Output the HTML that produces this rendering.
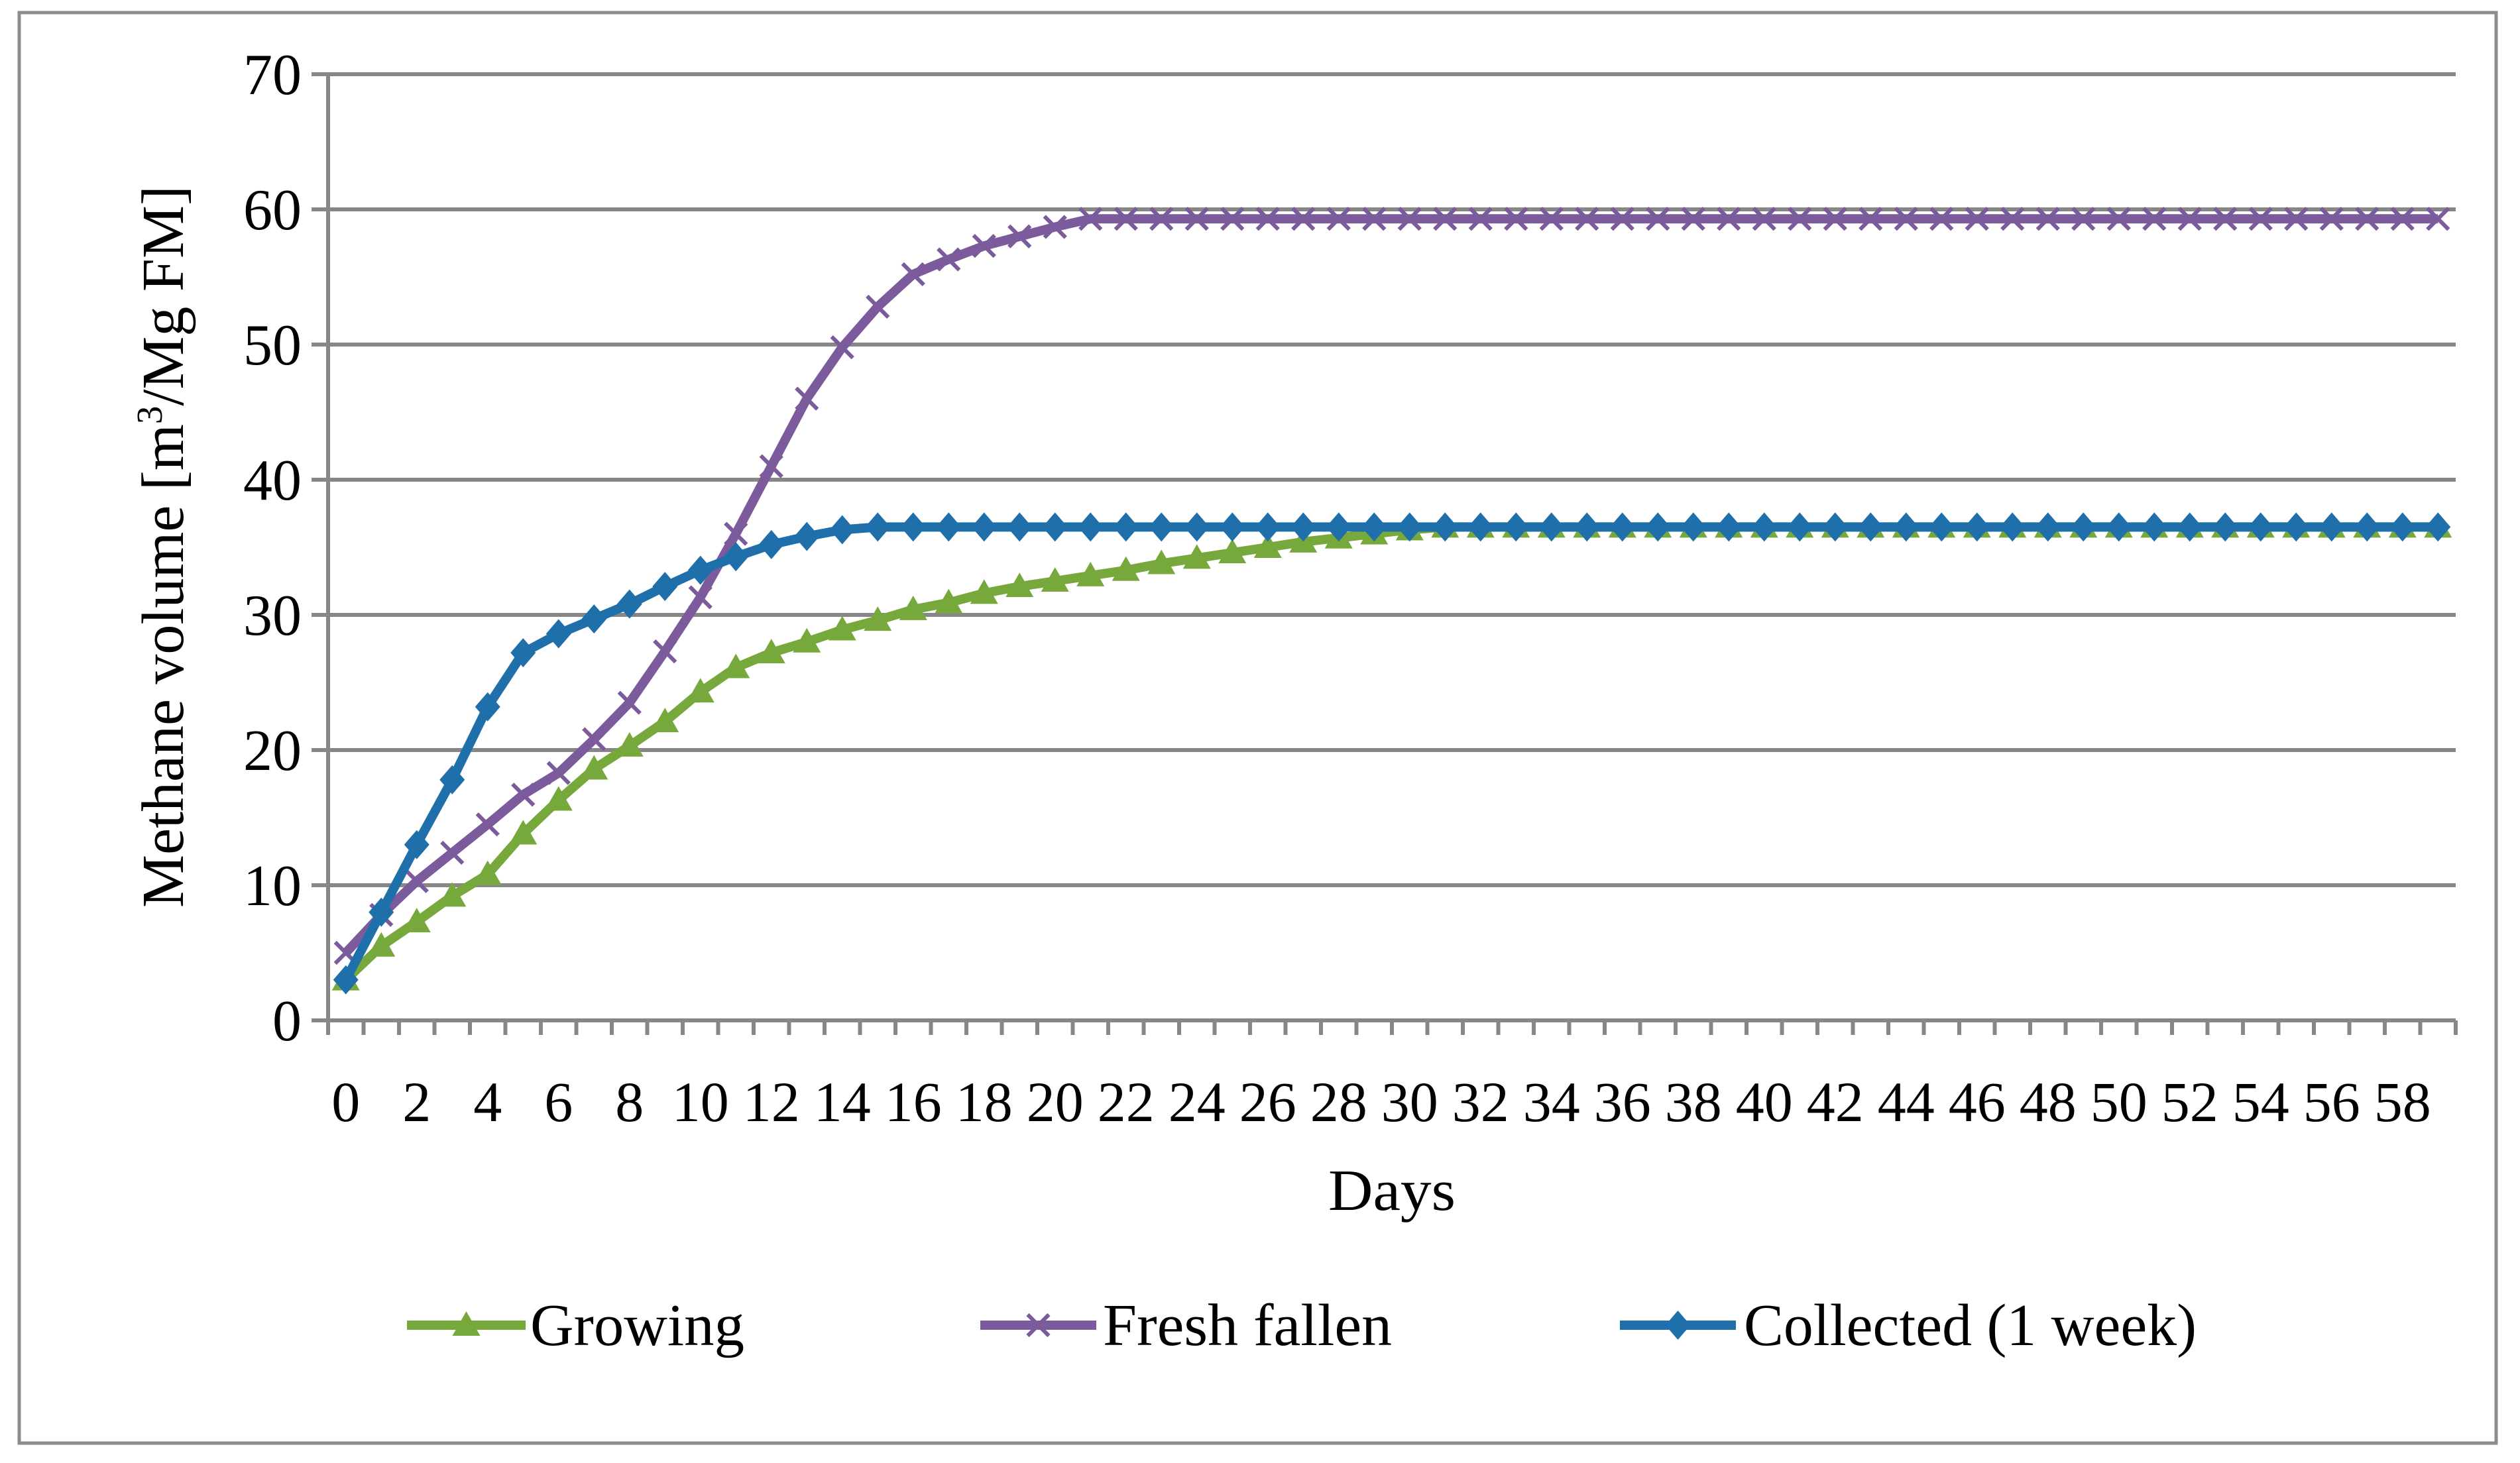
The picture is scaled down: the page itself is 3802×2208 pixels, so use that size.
<!DOCTYPE html>
<html><head><meta charset="utf-8"><style>
html,body{margin:0;padding:0;background:#fff;}
svg{display:block;font-family:"Liberation Serif",serif;}
</style></head><body>
<svg id="chart" width="3802" height="2208" viewBox="0 0 3802 2208" xmlns="http://www.w3.org/2000/svg">
<rect x="29" y="19" width="3737" height="2159" fill="#fff" stroke="#8c8c8c" stroke-width="5"/>
<g id="grid"></g><g id="axes"></g><g id="series"></g><g id="labels"></g>
<text transform="translate(276,825) rotate(-90)" text-anchor="middle" font-size="90" fill="#000" textLength="1090" lengthAdjust="spacingAndGlyphs">Methane volume [m<tspan font-size="55" dy="-32">3</tspan><tspan dy="32">/Mg FM]</tspan></text>
<text x="2100" y="1826" text-anchor="middle" font-size="88" fill="#000" textLength="192" lengthAdjust="spacingAndGlyphs">Days</text>
<g id="legend"></g>
</svg>
<script>
const days = Array.from({length:60},(_,i)=>i);
const yTicks = [0,10,20,30,40,50,60,70];
const growing = [3,5.5,7.3,9.2,10.8,13.8,16.3,18.6,20.3,22.1,24.3,26.1,27.2,28,28.9,29.6,30.4,30.9,31.6,32.1,32.5,32.9,33.3,33.8,34.2,34.6,35,35.4,35.7,36,36.3,36.5,36.5,36.5,36.5,36.5,36.5,36.5,36.5,36.5,36.5,36.5,36.5,36.5,36.5,36.5,36.5,36.5,36.5,36.5,36.5,36.5,36.5,36.5,36.5,36.5,36.5,36.5,36.5,36.5];
const freshFallen = [5,7.8,10.3,12.4,14.5,16.7,18.3,20.8,23.5,27.3,31.3,36,41,46,49.8,52.8,55.2,56.3,57.3,58,58.7,59.3,59.3,59.3,59.3,59.3,59.3,59.3,59.3,59.3,59.3,59.3,59.3,59.3,59.3,59.3,59.3,59.3,59.3,59.3,59.3,59.3,59.3,59.3,59.3,59.3,59.3,59.3,59.3,59.3,59.3,59.3,59.3,59.3,59.3,59.3,59.3,59.3,59.3,59.3];
const collected = [3,8,13,17.8,23.2,27.2,28.6,29.7,30.8,32.1,33.3,34.3,35.2,35.8,36.3,36.5,36.5,36.5,36.5,36.5,36.5,36.5,36.5,36.5,36.5,36.5,36.5,36.5,36.5,36.5,36.5,36.5,36.5,36.5,36.5,36.5,36.5,36.5,36.5,36.5,36.5,36.5,36.5,36.5,36.5,36.5,36.5,36.5,36.5,36.5,36.5,36.5,36.5,36.5,36.5,36.5,36.5,36.5,36.5,36.5];

const NS="http://www.w3.org/2000/svg";
const L=495,R=3705,T=112,B=1540,YMAX=70;
const cw=(R-L)/days.length;
const xs=i=>L+cw*(i+0.5);
const ys=v=>B-(v/YMAX)*(B-T);
function mk(tag,attrs,parent){const e=document.createElementNS(NS,tag);for(const k in attrs)e.setAttribute(k,attrs[k]);parent.appendChild(e);return e;}
const grid=document.getElementById('grid'),axes=document.getElementById('axes'),labels=document.getElementById('labels'),series=document.getElementById('series'),legend=document.getElementById('legend');
yTicks.forEach(v=>{
  const g=mk('line',{x1:L-25,x2:R,y1:ys(v),y2:ys(v),stroke:'#878787','stroke-width':6},grid);
  
  
  const t=mk('text',{x:L-40,y:ys(v)+30,'text-anchor':'end','font-size':88,fill:'#000'},labels);
  t.textContent=v;
  
  
});
const ya=mk('line',{x1:L,x2:L,y1:T,y2:B,stroke:'#878787','stroke-width':6},axes);


for(let i=0;i<=days.length;i++){
  const tk=mk('line',{x1:L+cw*i,x2:L+cw*i,y1:B,y2:B+22,stroke:'#878787','stroke-width':6},axes);
  
  
}
days.forEach((d,i)=>{ if(d%2===0){
  const t=mk('text',{x:xs(i),y:1692,'text-anchor':'middle','font-size':86,fill:'#000'},labels);
  t.textContent=d;
  
  
}});
function marker(type,x,y,color,parent){
  let e;
  if(type==='tri'){e=mk('polygon',{points:`${x},${y-21} ${x-21},${y+16} ${x+21},${y+16}`,fill:color},parent);}
  else if(type==='dia'){e=mk('polygon',{points:`${x},${y-22} ${x+19},${y} ${x},${y+22} ${x-19},${y}`,fill:color},parent);}
  else {e=mk('path',{d:`M${x-16},${y-16}L${x+16},${y+16}M${x-16},${y+16}L${x+16},${y-16}`,stroke:color,'stroke-width':6,fill:'none'},parent);}
  return e;
}
function drawSeries(data,color,type,name){
  const g=mk('g',{},series);
  
  
  const p=mk('polyline',{points:data.map((v,i)=>xs(i)+','+ys(v)).join(' '),fill:'none',stroke:color,'stroke-width':14,'stroke-linejoin':'round'},g);
  
  
  data.forEach((v,i)=>{
    const m=marker(type,xs(i),ys(v),color,g);
    
    
  });
}
drawSeries(growing,'#77a83b','tri','growing');
drawSeries(freshFallen,'#7b5b9c','x','fresh-fallen');
drawSeries(collected,'#1f6fab','dia','collected');
function legendEntry(x1,x2,tx,tw,color,type,label,name){
  const g=mk('g',{},legend);
  
  
  mk('line',{x1:x1,x2:x2,y1:2000,y2:2000,stroke:color,'stroke-width':14},g);
  marker(type,(x1+x2)/2,2000,color,g);
  const t=mk('text',{x:tx,y:2030,'font-size':90,fill:'#000',textLength:tw,lengthAdjust:'spacingAndGlyphs'},g);
  t.textContent=label;
}
legendEntry(614,793,800,323,'#77a83b','tri','Growing','growing');
legendEntry(1479,1654,1664,436,'#7b5b9c','x','Fresh fallen','fresh-fallen');
legendEntry(2444,2619,2631,683,'#1f6fab','dia','Collected (1 week)','collected');
</script>
</body></html>
